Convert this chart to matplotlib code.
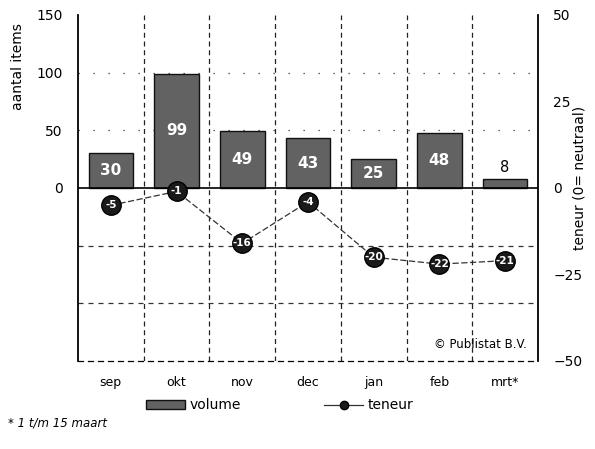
import matplotlib
matplotlib.use("Agg")
import matplotlib.pyplot as plt
from matplotlib.lines import Line2D
from matplotlib.patches import Patch

months = ["sep", "okt", "nov", "dec", "jan", "feb", "mrt*"]
volume = [30, 99, 49, 43, 25, 48, 8]
teneur = [-5, -1, -16, -4, -20, -22, -21]

plt.rcParams["font.family"] = ["DejaVu Sans"]

fig = plt.figure(figsize=(5.95, 4.49), dpi=100)
ax = fig.add_axes([0.1311, 0.196, 0.773, 0.7706])
x = list(range(len(months)))

# grid first so bars sit on top
for xv in [i + 0.5 for i in range(len(months) - 1)]:
    ax.axvline(xv, color="#222222", lw=0.9, ls=(0, (4, 3)), zorder=1)
for yv in [50, 100]:
    ax.axhline(yv, color="#333333", lw=0.9, ls=(0, (1, 11)), zorder=1)
for yv in [-50, -100]:
    ax.axhline(yv, color="#333333", lw=0.9, ls=(0, (4, 4)), zorder=1)

bars = ax.bar(x, volume, width=0.68, color="#626262", edgecolor="#111111",
              linewidth=1.0, zorder=2)
for b, v in zip(bars, volume):
    if v >= 20:
        ax.text(b.get_x() + b.get_width() / 2, v / 2, str(v), ha="center",
                va="center", color="white", fontsize=11, fontweight="bold",
                zorder=3)
    else:
        ax.text(b.get_x() + b.get_width() / 2, v + 3, str(v), ha="center",
                va="bottom", color="black", fontsize=10.5, zorder=3)
ax.axhline(0, color="black", lw=1.2, zorder=3)

ax.set_xlim(-0.5, len(months) - 0.5)
ax.set_ylim(-150, 150)
ax.set_yticks([0, 50, 100, 150])
ax.set_xticks(x)
ax.set_xticklabels(months)
ax.tick_params(axis="both", length=0, labelsize=10)
ax.tick_params(axis="x", pad=11, labelsize=9)
ax.tick_params(axis="y", pad=11)
ax.set_ylabel("aantal items", fontsize=10)
ax.yaxis.set_label_coords(-0.115, 0.85)
ax.spines["top"].set_visible(False)
ax.spines["bottom"].set_linestyle((0, (4, 4)))
ax.spines["bottom"].set_linewidth(0.9)
ax.spines["left"].set_linewidth(1.3)
ax.spines["right"].set_linewidth(1.3)

ax2 = ax.twinx()
ax2.set_ylim(-50, 50)
ax2.set_yticks([50, 25, 0, -25, -50])
ax2.tick_params(axis="y", length=0, labelsize=10, pad=11)
ax2.set_ylabel("teneur (0= neutraal)", fontsize=10)
ax2.yaxis.set_label_coords(1.075, 0.53)
for s in ["top", "bottom", "left", "right"]:
    ax2.spines[s].set_visible(False)

ax2.plot(x, teneur, color="#333333", lw=0.9, ls=(0, (5, 2)), zorder=4)
ax2.plot(x, teneur, ls="none", marker="o", markersize=14,
         markerfacecolor="#1a1a1a", markeredgecolor="black", zorder=5)
for xi, t in zip(x, teneur):
    ax2.text(xi, t, str(t), ha="center", va="center", color="white",
             fontsize=7.5, fontweight="bold", zorder=6)

ax.text(0.975, 0.03, "\u00a9 Publistat B.V.", transform=ax.transAxes,
        ha="right", va="bottom", fontsize=8.5, zorder=6)

handles = [Patch(facecolor="#626262", edgecolor="#111111"),
           Line2D([0], [0], color="#333333", lw=0.9, marker="o",
                  markersize=6, markerfacecolor="#1a1a1a",
                  markeredgecolor="black")]
fig.legend(handles, ["volume", "teneur"], loc="center", ncol=2,
           bbox_to_anchor=(0.47, 0.097), frameon=False, fontsize=10,
           columnspacing=6, handlelength=2.8, handletextpad=0.3)

fig.text(0.013, 0.058, "* 1 t/m 15 maart", fontsize=8.5, style="italic",
         ha="left", va="center")

fig.savefig("out.png", dpi=100)
